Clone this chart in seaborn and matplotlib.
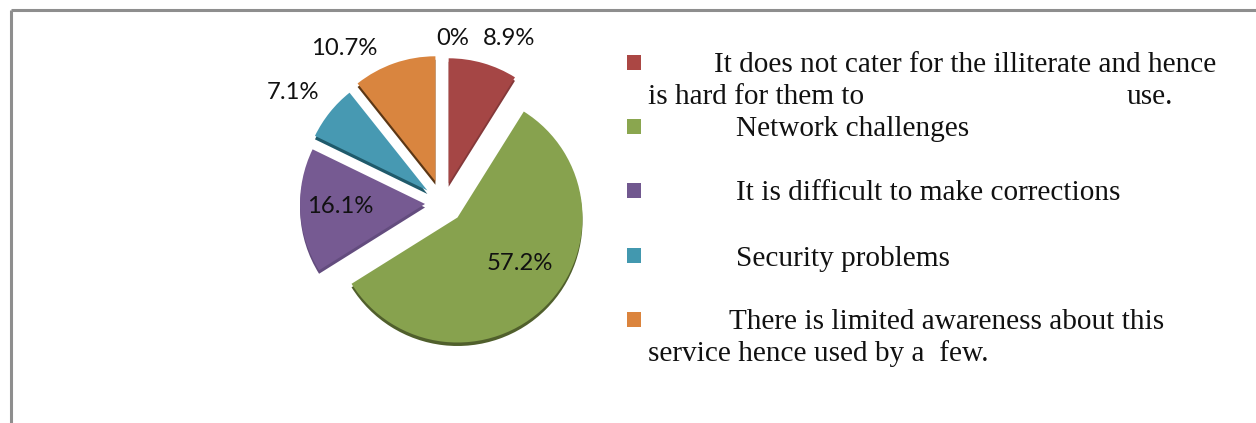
import matplotlib
matplotlib.use("Agg")
import matplotlib.pyplot as plt
from matplotlib.patches import Rectangle
import seaborn as sns

# Survey shares per reported challenge
shares = [0, 8.9, 57.2, 16.1, 7.1, 10.7]
top_colors = ["#4f81bd", "#a54645", "#87a24e", "#765a92", "#4799b2", "#d9853f"]
side_colors = ["#3a6090", "#84393a", "#505f2c", "#634c7e", "#1f5a6b", "#5c3715"]
legend_colors = ["#ab4744", "#8aa64f", "#71588f", "#4298af", "#db843d"]
legend_lines = [
    "It does not cater for the illiterate and hence",
    "is hard for them to",
    "use.",
    "Network challenges",
    "It is difficult to make corrections",
    "Security problems",
    "There is limited awareness about this",
    "service hence used by a  few.",
]

W, H = 1256, 423
sns.set_theme(style="white")
fig = plt.figure(figsize=(W / 100, H / 100), dpi=100)
ax = fig.add_axes([0, 0, 1, 1])


def py(y):
    """Convert a distance from the top edge to axis height."""
    return H - y


cx, cy, radius = 443, 203, 125
explode = [20.5, 20.5, 20.5, 18, 20, 23]  # pie offsets are in axis units here

# Darker copy underneath gives the slices their depth
ax.pie(shares, explode=explode, colors=sns.color_palette(side_colors),
       startangle=90, counterclock=False, radius=radius,
       center=(cx, py(cy + 3.5)), frame=True, wedgeprops={"linewidth": 0})

wedges, _, pct_labels = ax.pie(
    shares, explode=explode, colors=sns.color_palette(top_colors),
    startangle=90, counterclock=False, radius=radius,
    center=(cx, py(cy)), frame=True, wedgeprops={"linewidth": 0},
    autopct=lambda p: f"{p:.1f}%" if p > 0 else "0%",
    textprops={"family": "Lato", "fontsize": 17.2, "color": "#111111"},
)

label_spots = [(453, 38), (509, 38), (520, 264), (340, 206), (293, 92), (344, 48)]
for label, (x, y) in zip(pct_labels, label_spots):
    label.set_position((x, py(y)))
    label.set_ha("center")
    label.set_va("center")

# Chart-area border: only the top and left edges are in view
ax.plot([11, W], [py(9.5), py(9.5)], color="#8e8e8e", lw=2.2, solid_capstyle="butt")
ax.plot([11, 11], [py(9.5), 0], color="#8e8e8e", lw=2.2, solid_capstyle="butt")

# Legend swatches
for color, y in zip(legend_colors, [55, 119, 183, 248, 312]):
    ax.add_patch(Rectangle((627, py(y + 15)), 14, 15, color=color, lw=0))

# Legend text
text_spots = [(714, 65), (648, 97), (1127, 97), (736, 129),
              (736, 193), (736, 259), (729, 322), (648, 354)]
for line, (x, y) in zip(legend_lines, text_spots):
    ax.text(x, py(y), line, family="Liberation Serif", fontsize=21.1,
            color="#111111", ha="left", va="center")

ax.set_xlim(0, W)
ax.set_ylim(0, H)
ax.set_aspect("equal")
ax.axis("off")
fig.savefig("out.png", dpi=100, facecolor="white")
